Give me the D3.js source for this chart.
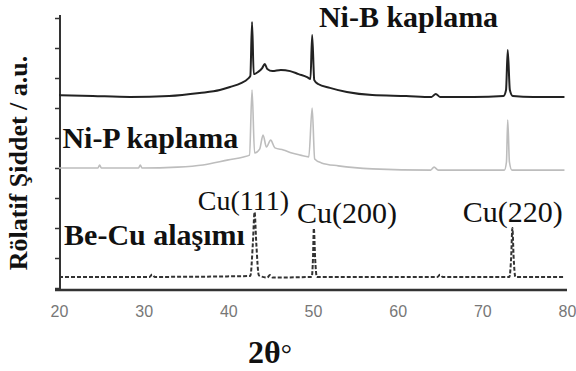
<!DOCTYPE html>
<html>
<head>
<meta charset="utf-8">
<script src="https://cdn.jsdelivr.net/npm/d3@7"></script>
<style>
  body { margin: 0; background: #fff; }
  svg { display: block; }
  .serif { font-family: "Liberation Serif", "Times New Roman", Times, serif; }
</style>
</head>
<body>
<svg id="chart" width="576" height="371"></svg>
<script>
const svg = d3.select("#chart");

// 2theta (deg) and intensity (a.u., already stacked)
const nibTheta = [20, 24, 28.4, 33, 36.6, 39, 40.2, 41.5, 42.3, 42.6, 42.8, 43.0, 43.5, 44.0, 44.3, 44.6, 45.2, 46.2, 47.3, 48.3, 49.3, 49.7, 49.9, 50.15, 50.6, 52, 54, 57, 61, 64.0, 64.5, 65.0, 69, 72.5, 72.8, 73.0, 73.25, 73.6, 76, 79.7];
const nibInt = [6.43, 6.40, 6.37, 6.40, 6.50, 6.60, 6.70, 6.83, 6.97, 7.07, 8.87, 7.13, 7.20, 7.33, 7.47, 7.30, 7.23, 7.27, 7.23, 7.13, 7.03, 6.97, 8.43, 6.93, 6.80, 6.67, 6.53, 6.43, 6.40, 6.37, 6.47, 6.37, 6.37, 6.40, 6.60, 7.93, 6.60, 6.40, 6.37, 6.37];

const nipTheta = [20, 24.6, 24.8, 25.0, 29.4, 29.6, 29.8, 34, 37, 40, 41.8, 42.5, 42.8, 43.1, 43.7, 44.1, 44.5, 45.0, 45.5, 46.5, 47.5, 48.5, 49.5, 49.9, 50.2, 51, 53, 57, 63.9, 64.3, 64.8, 72.6, 72.85, 73.0, 73.2, 73.5, 79.7];
const nipInt = [4.0, 4.0, 4.1, 4.0, 4.0, 4.1, 4.0, 4.03, 4.1, 4.27, 4.37, 4.43, 6.6, 4.5, 4.63, 5.1, 4.7, 4.93, 4.67, 4.6, 4.5, 4.43, 4.37, 6.0, 4.3, 4.17, 4.07, 3.97, 3.93, 4.03, 3.93, 3.93, 4.2, 5.6, 4.2, 3.93, 3.93];

const cuTheta = [20, 30.7, 31.0, 31.3, 42.6, 42.9, 43.1, 43.3, 43.6, 44.6, 44.9, 45.2, 49.85, 50.0, 50.1, 50.25, 50.45, 64.7, 65.0, 65.3, 73.2, 73.4, 73.55, 73.7, 73.9, 79.7];
const cuInt = [0.37, 0.37, 0.45, 0.37, 0.40, 1.5, 2.53, 1.5, 0.42, 0.35, 0.43, 0.35, 0.37, 1.0, 2.0, 1.0, 0.37, 0.37, 0.44, 0.37, 0.37, 1.0, 2.0, 1.0, 0.37, 0.37];

const xTicks = [20, 30, 40, 50, 60, 70, 80];
const yTicks = [0, 1, 2, 3, 4, 5, 6, 7, 8, 9];

const labels = [
  { text: "Ni-B kaplama", t: 50.7, v: 8.7, bold: true, size: 30 },
  { text: "Ni-P kaplama", t: 20.4, v: 4.67, bold: true, size: 30 },
  { text: "Be-Cu alaşımı", t: 20.6, v: 1.43, bold: true, size: 30 },
  { text: "Cu(111)", t: 36.4, v: 2.6, bold: false, size: 28 },
  { text: "Cu(200)", t: 48.1, v: 2.17, bold: false, size: 30 },
  { text: "Cu(220)", t: 67.7, v: 2.2, bold: false, size: 30 }
];

const x = d3.scaleLinear().domain([20, 80]).range([59, 567]);
const y = d3.scaleLinear().domain([0, 9]).range([288, 18]);

// axes
svg.append("g")
  .attr("transform", "translate(0,290)")
  .call(d3.axisBottom(x).tickValues(xTicks).tickSize(0).tickPadding(15.5))
  .call(g => g.select(".domain").remove())
  .call(g => g.selectAll("text")
    .attr("font-family", "Liberation Sans, Arial, sans-serif")
    .attr("font-size", 16)
    .attr("fill", "#777"));

svg.append("line")
  .attr("x1", 55).attr("x2", 567)
  .attr("y1", 290).attr("y2", 290)
  .attr("stroke", "#333").attr("stroke-width", 2.5);

svg.append("g")
  .attr("transform", "translate(60,0)")
  .call(d3.axisLeft(y).tickValues(yTicks).tickSize(5).tickFormat(""))
  .call(g => g.select(".domain").remove())
  .call(g => g.selectAll("line").attr("stroke", "#333").attr("stroke-width", 1.5));

svg.append("line")
  .attr("x1", 60).attr("x2", 60)
  .attr("y1", 15).attr("y2", 291)
  .attr("stroke", "#333").attr("stroke-width", 2);

// traces
const line = d3.line()
  .x(d => x(d[0]))
  .y(d => y(d[1]))
  .curve(d3.curveMonotoneX);

svg.append("path")
  .datum(d3.zip(nipTheta, nipInt))
  .attr("d", line)
  .attr("fill", "none")
  .attr("stroke", "#bdbdbd")
  .attr("stroke-width", 1.6);

svg.append("path")
  .datum(d3.zip(nibTheta, nibInt))
  .attr("d", line)
  .attr("fill", "none")
  .attr("stroke", "#222")
  .attr("stroke-width", 2);

svg.append("path")
  .datum(d3.zip(cuTheta, cuInt))
  .attr("d", line)
  .attr("fill", "none")
  .attr("stroke", "#333")
  .attr("stroke-width", 2)
  .attr("stroke-dasharray", "4,2");

// labels
svg.selectAll("text.lab")
  .data(labels)
  .join("text")
  .attr("class", "lab serif")
  .attr("x", d => x(d.t))
  .attr("y", d => y(d.v))
  .attr("font-size", d => d.size)
  .attr("font-weight", d => d.bold ? "bold" : "normal")
  .attr("fill", "#111")
  .text(d => d.text);

svg.append("text")
  .attr("class", "serif")
  .attr("transform", "translate(27,163) rotate(-90)")
  .attr("text-anchor", "middle")
  .attr("font-size", 26)
  .attr("font-weight", "bold")
  .attr("fill", "#111")
  .text("Rölatif Şiddet / a.u.");

const xt = svg.append("text")
  .attr("class", "serif")
  .attr("x", 270)
  .attr("y", 363)
  .attr("text-anchor", "middle")
  .attr("font-size", 32)
  .attr("fill", "#111");
xt.append("tspan").attr("font-weight", "bold").text("2θ");
xt.append("tspan").attr("font-size", 28).text("°");
</script>
</body>
</html>
